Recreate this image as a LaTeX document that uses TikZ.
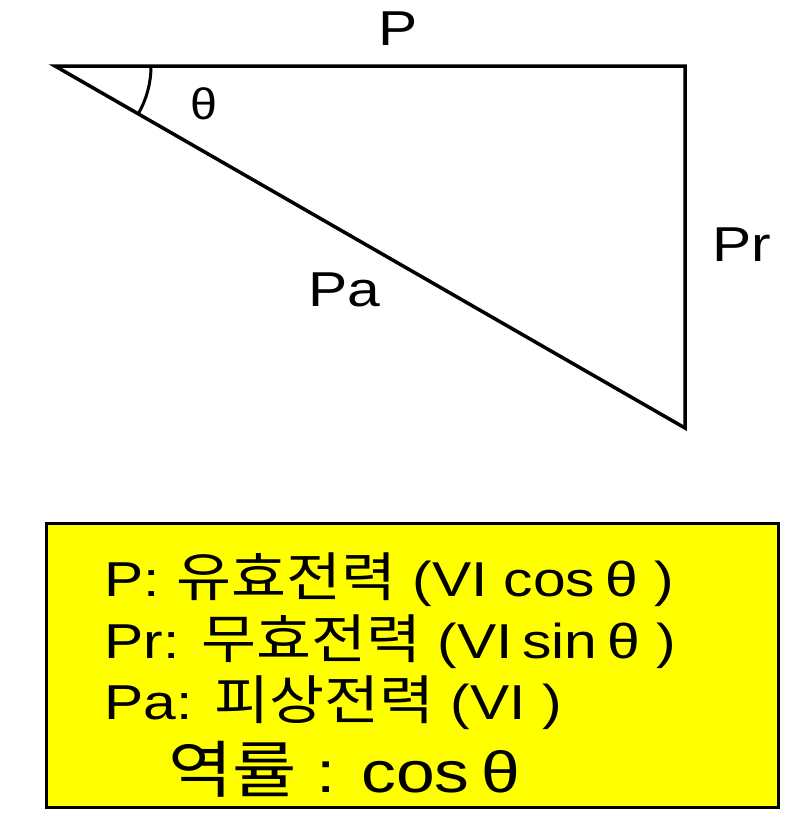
\documentclass[tikz,border=0pt]{standalone}
\usepackage{graphicx}
\usepackage{fontspec}
\setmainfont{Liberation Sans}
\newfontfamily\kr{Noto Sans CJK KR}
\definecolor{boxyellow}{RGB}{255,255,0}
\newcommand{\wide}[1]{\scalebox{1.2}[1]{#1}}
\newcommand{\han}[1]{\scalebox{0.94}[1]{\kr\fontsize{53}{55}\selectfont #1}}
\newcommand{\hanbig}[1]{\scalebox{0.94}[1]{\kr\fontsize{62}{64}\selectfont #1}}
\begin{document}
\begin{tikzpicture}[x=1pt,y=-1pt,
  edge/.style={line width=3.5pt,line join=miter},
  lbl/.style={font=\fontsize{49}{52}\selectfont,inner sep=0pt},
  line/.style={font=\fontsize{49}{52}\selectfont,inner sep=0pt,anchor=base west}]
\useasboundingbox (0,0) rectangle (800,830);
\coordinate (A) at (55,66);
\coordinate (B) at (685,66);
\coordinate (C) at (685,428);
\draw[edge] (A) -- (B) -- (C) -- cycle;
\draw[line width=3pt] ([shift={(0:96)}]A) arc[start angle=0,end angle=29.9,radius=96];
\node[lbl,font=\fontsize{44}{46}\selectfont] (th) at (204,104) {\scalebox{1.1}[1]{θ}};
\node[lbl] (lP) at (398,29) {\wide{P}};
\node[lbl] (lPr) at (742,245) {\wide{Pr}};
\node[lbl] (lPa) at (344,290) {\wide{Pa}};
\node[draw,line width=3pt,fill=boxyellow,minimum width=732,minimum height=284,anchor=north west,inner sep=0pt] (box) at (45,522) {};
\node[line] (t1) at (104,596) {\wide{P: \han{유효전력} (VI cos\,θ )}};
\node[line] (t2) at (104,658) {\wide{Pr: \han{무효전력} (VI\,sin\,θ )}};
\node[line] (t3) at (104,719) {\wide{Pa: \han{피상전력} (VI )}};
\node[line,font=\fontsize{58}{60}\selectfont] (t4) at (168,792) {\wide{\hanbig{역률} : cos\,θ}};
\end{tikzpicture}
\end{document}
